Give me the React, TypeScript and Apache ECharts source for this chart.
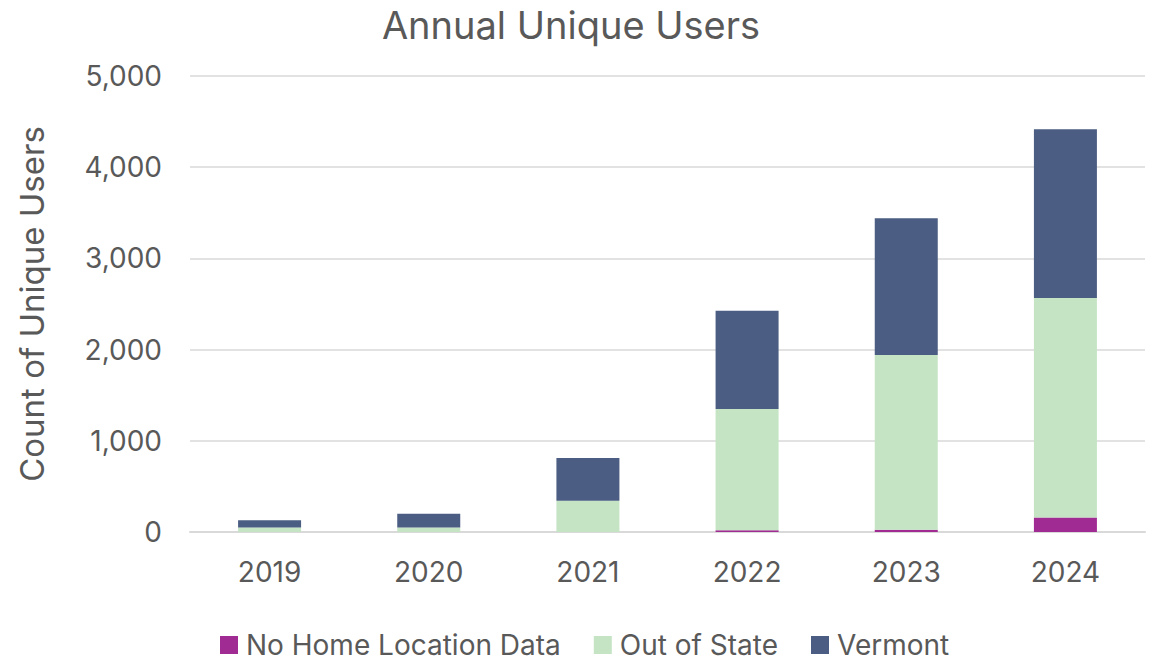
import React, { useEffect, useRef } from "react";
import * as echarts from "echarts";

const categories = ["2019", "2020", "2021", "2022", "2023", "2024"];
const noHome = [0, 0, 0, 20, 25, 160];
const outOfState = [50, 50, 343, 1330, 1915, 2405];
const vermont = [80, 150, 468, 1075, 1500, 1850];

const FONT = "Inter, 'Liberation Sans', sans-serif";
const TXT = "#595959";

export default function App() {
  const ref = useRef<HTMLDivElement>(null);
  useEffect(() => {
    if (!ref.current) return;
    const chart = echarts.init(ref.current, undefined, { renderer: "svg" });
    chart.setOption({
      animation: false,
      textStyle: { fontFamily: FONT },
      title: {
        text: "Annual Unique Users",
        left: 566,
        textAlign: "center",
        top: 1,
        textStyle: { fontSize: 38, fontWeight: "normal", color: TXT, fontFamily: FONT },
      },
      legend: {
        top: 628,
        left: 215,
        padding: [3, 5, 3, 5],
        itemWidth: 18,
        itemHeight: 18,
        itemGap: 33,
        icon: "rect",
        textStyle: {
          fontSize: 28,
          lineHeight: 24,
          color: TXT,
          fontFamily: FONT,
          padding: [0, 0, 0, 3],
        },
        data: ["No Home Location Data", "Out of State", "Vermont"],
      },
      grid: { left: 190, right: 8, top: 76, bottom: 131, containLabel: false },
      xAxis: {
        type: "category",
        data: categories,
        axisLine: { lineStyle: { color: "#d9d9d9", width: 2 } },
        axisTick: { show: false },
        axisLabel: { fontSize: 28, color: TXT, margin: 26, fontFamily: FONT },
      },
      yAxis: {
        type: "value",
        min: 0,
        max: 5000,
        interval: 1000,
        name: "Count of Unique Users",
        nameLocation: "middle",
        nameGap: 142,
        nameTextStyle: { fontSize: 33, color: TXT, fontFamily: FONT },
        axisLabel: {
          fontSize: 28,
          color: TXT,
          margin: 28,
          fontFamily: FONT,
          formatter: (v: number) => v.toLocaleString("en-US"),
        },
        splitLine: { lineStyle: { color: "#d9d9d9", width: 1.5 } },
        axisLine: { show: false },
        axisTick: { show: false },
      },
      series: [
        {
          name: "No Home Location Data",
          type: "bar",
          stack: "a",
          data: noHome,
          barWidth: 63,
          itemStyle: { color: "#A02B93" },
        },
        {
          name: "Out of State",
          type: "bar",
          stack: "a",
          data: outOfState,
          barWidth: 63,
          itemStyle: { color: "#C4E4C4" },
        },
        {
          name: "Vermont",
          type: "bar",
          stack: "a",
          data: vermont,
          barWidth: 63,
          itemStyle: { color: "#4B5D82" },
        },
      ],
    });
    return () => chart.dispose();
  }, []);
  return (
    <div
      ref={ref}
      style={{ position: "fixed", left: 0, top: 0, width: 1153, height: 663, background: "#fff" }}
    />
  );
}
